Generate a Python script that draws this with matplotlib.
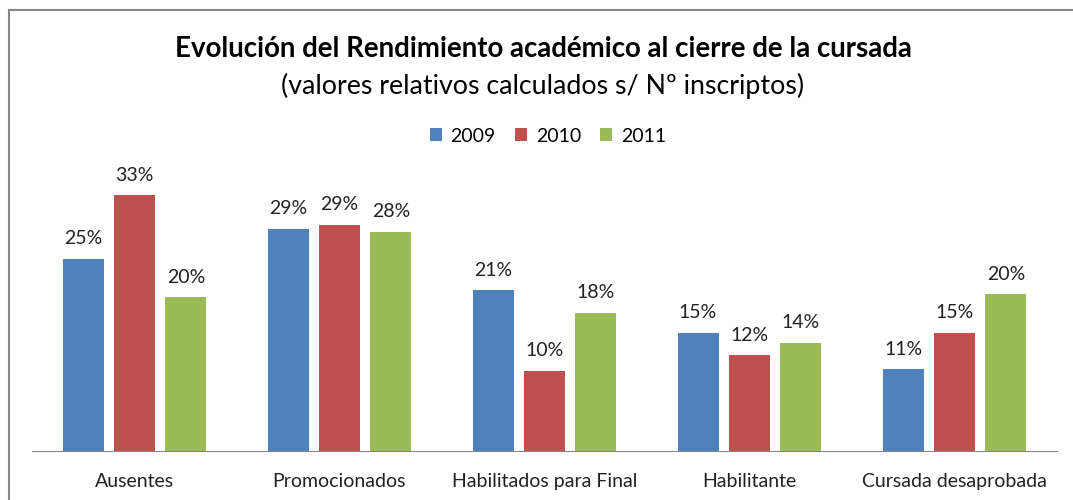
import numpy as np
import matplotlib
matplotlib.use("Agg")
from matplotlib import pyplot as plt
from matplotlib.lines import Line2D

# datos (% sobre inscriptos)
categorias = ["Ausentes", "Promocionados", "Habilitados para Final", "Habilitante", "Cursada desaprobada"]
anios = ["2009", "2010", "2011"]
v2009 = [24.9, 28.8, 20.8, 15.3, 10.6]
v2010 = [33.1, 29.3, 10.4, 12.4, 15.3]
v2011 = [19.9, 28.4, 17.9, 14.0, 20.3]
colores = ["#4F81BD", "#C0504D", "#9BBB59"]

plt.rcParams['font.family'] = ['Lato', 'DejaVu Sans']

W, H = 1073, 500
fig = plt.figure(figsize=(W/100, H/100), dpi=100)
ax = fig.add_axes([32/W, 49/H, 1025/W, 35*7.72/H])

x = np.arange(len(categorias))
ancho = 0.2
paso = 0.251
for i, (serie, col, lab) in enumerate(zip([v2009, v2010, v2011], colores, anios)):
    pos = x + (i - 1) * paso
    barras = ax.bar(pos, serie, ancho, color=col, label=lab)
    for b, v in zip(barras, serie):
        ax.text(b.get_x() + b.get_width()/2, v + 2.6, f"{round(v):.0f}%",
                ha="center", va="center", fontsize=14, color="#222222")

ax.set_xlim(-0.5, len(categorias) - 0.5)
ax.set_ylim(0, 35)
ax.set_xticks(x)
ax.set_xticklabels(categorias, fontsize=14, color="#222222")
ax.tick_params(axis="x", length=0, pad=16)
ax.set_yticks([])
for s in ["top", "right", "left"]:
    ax.spines[s].set_visible(False)
ax.spines["bottom"].set_color("#868686")

fig.text(543/W, 1 - 49/H, "Evolución del Rendimiento académico al cierre de la cursada",
         ha="center", va="center", fontsize=19.9, fontweight="bold", color="black")
fig.text(543/W, 1 - 86/H, "(valores relativos calculados s/ Nº inscriptos)",
         ha="center", va="center", fontsize=19.3, color="black")

fig.legend(loc="center", bbox_to_anchor=(548/W, 1 - 136/H), ncol=3, frameon=False,
           fontsize=14, handlelength=0.6, handleheight=0.6, handletextpad=0.45, columnspacing=1.0)

# borde del grafico
fig.add_artist(Line2D([9/W, 9/W], [0, 1 - 10/H], transform=fig.transFigure, color="#868686", lw=1.5))
fig.add_artist(Line2D([9/W, 1], [1 - 10/H, 1 - 10/H], transform=fig.transFigure, color="#868686", lw=1.5))

fig.savefig("out.png", dpi=100)
plt.close()
